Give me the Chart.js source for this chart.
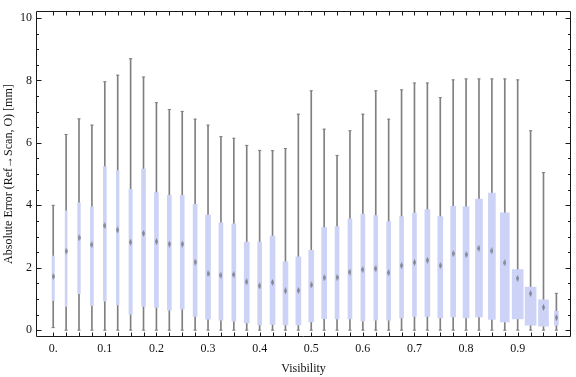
<!DOCTYPE html>
<html>
<head>
<meta charset="utf-8">
<script src="https://cdn.jsdelivr.net/npm/chart.js@4.4.1/dist/chart.umd.min.js"></script>
<style>
  html, body { margin: 0; padding: 0; background: #fff; }
  #wrap { width: 576px; height: 377px; }
</style>
</head>
<body>
<div id="wrap"><canvas id="boxChart"></canvas></div>
<script>
// Visibility bins (box positions)
const visibility = [0, 0.025, 0.05, 0.075, 0.1, 0.125, 0.15, 0.175, 0.2, 0.225,
    0.25, 0.275, 0.3, 0.325, 0.35, 0.375, 0.4, 0.425, 0.45, 0.475,
    0.5, 0.525, 0.55, 0.575, 0.6, 0.625, 0.65, 0.675, 0.7, 0.725,
    0.75, 0.775, 0.8, 0.825, 0.85, 0.875, 0.9, 0.925, 0.95, 0.975];

// Box-whisker statistics, absolute error in mm
const whiskerHigh = [4.0, 6.27, 6.77, 6.57, 7.96, 8.17, 8.7, 8.11, 7.29, 7.07,
    7.01, 6.76, 6.57, 6.2, 6.15, 5.92, 5.76, 5.75, 5.82, 6.92,
    7.67, 6.44, 5.6, 6.39, 6.92, 7.67, 6.76, 7.7, 7.92, 7.92,
    7.45, 8.02, 8.05, 8.05, 8.05, 8.05, 8.02, 6.39, 5.05, 1.18];
const upperQuartile = [2.37, 3.82, 4.08, 3.95, 5.24, 5.11, 4.51, 5.16, 4.41, 4.32,
    4.32, 4.03, 3.69, 3.44, 3.41, 2.82, 2.82, 3.01, 2.19, 2.35,
    2.56, 3.29, 3.32, 3.57, 3.72, 3.67, 3.48, 3.64, 3.75, 3.86,
    3.64, 3.97, 3.95, 4.2, 4.39, 3.76, 1.94, 1.38, 0.97, 0.6];
const median = [1.72, 2.53, 2.96, 2.74, 3.35, 3.21, 2.82, 3.1, 2.84, 2.76,
    2.76, 2.18, 1.81, 1.76, 1.78, 1.55, 1.42, 1.53, 1.26, 1.27,
    1.45, 1.68, 1.69, 1.86, 1.94, 1.97, 1.84, 2.07, 2.17, 2.24,
    2.07, 2.45, 2.42, 2.62, 2.54, 2.16, 1.66, 1.17, 0.73, 0.4];
const lowerQuartile = [0.95, 0.76, 1.17, 0.78, 0.93, 0.81, 0.51, 0.76, 0.73, 0.64,
    0.67, 0.44, 0.35, 0.32, 0.29, 0.23, 0.17, 0.18, 0.17, 0.17,
    0.26, 0.37, 0.36, 0.36, 0.29, 0.32, 0.32, 0.39, 0.44, 0.44,
    0.39, 0.42, 0.39, 0.42, 0.34, 0.26, 0.36, 0.16, 0.13, 0.16];
const whiskerLow = [0.08, 0, 0, 0, 0, 0, 0, 0, 0, 0,
    0, 0, 0, 0, 0, 0, 0, 0, 0, 0,
    0, 0, 0, 0, 0, 0, 0, 0, 0, 0,
    0, 0, 0, 0, 0, 0, 0, 0, 0, 0];

const yTicks = [0, 2, 4, 6, 8, 10];

// drawn box widths in px, as they appear in the picture
const boxWidthPx = [2.3, 2, 2.7, 3, 3, 2.7, 3.3, 4, 4, 4,
    4, 4, 5, 4, 4, 5, 4, 5, 5, 5,
    5, 5, 4, 4, 4, 4, 4, 4, 4, 5,
    5, 5, 6, 7, 7, 9, 11, 11, 10, 4];

const boxColor = 'rgb(205, 211, 246)';
const whiskerColor = 'rgb(128, 128, 128)';
const serif = '"Liberation Serif", "DejaVu Serif", serif';

// small soft vertical diamond used for the median
const medianMark = (() => {
    const c = document.createElement('canvas');
    c.width = 3; c.height = 7;
    const g = c.getContext('2d');
    g.fillStyle = 'rgba(105, 105, 110, 0.75)';
    g.beginPath();
    g.moveTo(1.5, 0); g.lineTo(3, 3.5); g.lineTo(1.5, 7); g.lineTo(0, 3.5);
    g.closePath();
    g.fill();
    return c;
})();

// frame with inward ticks, drawn from the scales
const framePlugin = {
    id: 'frame',
    afterDraw(chart) {
        const { ctx, chartArea: a, scales: { x, y } } = chart;
        const L = Math.round(a.left) + 0.5, R = Math.round(a.right) - 0.5;
        const T = Math.round(a.top) + 0.5, B = Math.round(a.bottom) - 0.5;
        ctx.save();
        ctx.strokeStyle = '#1a1a1a';
        ctx.lineWidth = 1;
        ctx.beginPath();
        ctx.rect(L, T, R - L, B - T);
        visibility.forEach(v => {
            const px = Math.round(x.getPixelForValue(v)) + 0.5;
            ctx.moveTo(px, B); ctx.lineTo(px, B - 4);
            ctx.moveTo(px, T); ctx.lineTo(px, T + 4);
        });
        for (let v = 0; v <= 10.001; v += 0.5) {
            const py = Math.round(y.getPixelForValue(v)) + 0.5;
            const len = (Math.abs(v % 2) < 0.001) ? 5 : 2.5;
            ctx.moveTo(L, py); ctx.lineTo(L + len, py);
            ctx.moveTo(R, py); ctx.lineTo(R - len, py);
        }
        ctx.stroke();
        ctx.restore();
    }
};

const datasets = [];

datasets.push({
    type: 'bar',
    data: visibility.map((v, i) => ({ x: v, y: [whiskerLow[i], whiskerHigh[i]] })),
    backgroundColor: whiskerColor,
    barThickness: 1,
    grouped: false,
    order: 4
});

visibility.forEach((v, i) => {
    datasets.push({
        type: 'bar',
        data: [{ x: v, y: [lowerQuartile[i], upperQuartile[i]] }],
        backgroundColor: boxColor,
        barThickness: boxWidthPx[i],
        grouped: false,
        order: 3
    });
});

datasets.push({
    type: 'scatter',
    data: visibility.map((v, i) => ({ x: v, y: whiskerHigh[i] }))
        .concat(visibility.map((v, i) => ({ x: v, y: whiskerLow[i] }))),
    pointStyle: 'line',
    pointRadius: 1.6,
    borderColor: whiskerColor,
    borderWidth: 1,
    order: 2
});

datasets.push({
    type: 'scatter',
    data: visibility.map((v, i) => ({ x: v, y: median[i] })),
    pointStyle: medianMark,
    order: 1
});

new Chart(document.getElementById('boxChart'), {
    type: 'bar',
    data: { datasets },
    options: {
        responsive: true,
        maintainAspectRatio: false,
        animation: false,
        layout: { padding: { top: 4, right: 1, left: 0, bottom: 0 } },
        plugins: { legend: { display: false }, tooltip: { enabled: false } },
        scales: {
            x: {
                type: 'linear',
                min: -1 / 30,
                max: 1.0033,
                offset: false,
                grid: { display: false, drawTicks: false },
                border: { display: false },
                afterBuildTicks: s => { s.ticks = visibility.map(v => ({ value: v })); },
                afterFit: s => { s.height = 40; },
                ticks: {
                    autoSkip: false,
                    maxRotation: 0,
                    padding: 5,
                    color: '#111',
                    font: { family: serif, size: 12 },
                    callback: (val, idx) => idx % 4 === 0 ? (val === 0 ? '0.' : val.toFixed(1)) : ''
                },
                title: {
                    display: true,
                    text: 'Visibility',
                    color: '#111',
                    font: { family: serif, size: 12 },
                    padding: { top: 0, bottom: 1 }
                }
            },
            y: {
                min: -0.22,
                max: 10.22,
                grid: { display: false, drawTicks: false },
                border: { display: false },
                afterBuildTicks: s => { s.ticks = yTicks.map(v => ({ value: v })); },
                afterFit: s => { s.width = 36; },
                ticks: {
                    padding: 4,
                    color: '#111',
                    font: { family: serif, size: 12 }
                },
                title: {
                    display: true,
                    text: 'Absolute Error (Ref\u2192Scan, O) [mm]',
                    color: '#111',
                    font: { family: serif, size: 12 },
                    padding: { top: 2, bottom: 0 }
                }
            }
        }
    },
    plugins: [framePlugin]
});
</script>
</body>
</html>
